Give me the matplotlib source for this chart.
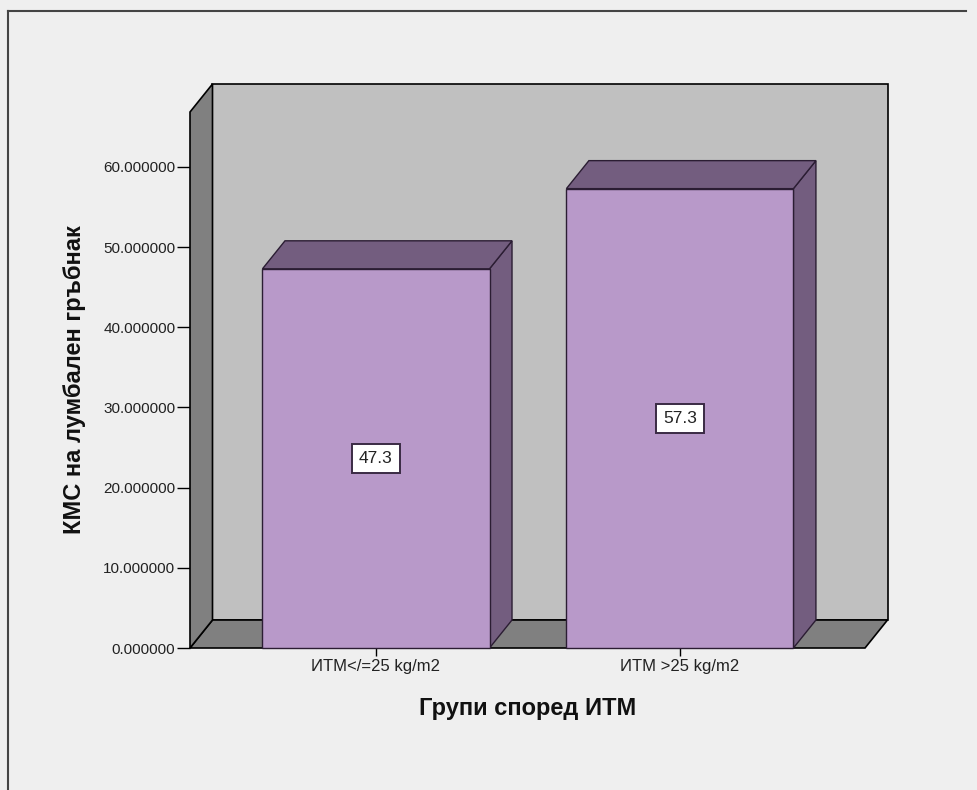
import numpy as np
import matplotlib
matplotlib.use("Agg")
import matplotlib.pyplot as plt
from matplotlib import font_manager as fm
from matplotlib.patches import Polygon
from matplotlib.lines import Line2D

# данни
groups = ["ИТМ</=25 kg/m2", "ИТМ >25 kg/m2"]
kms_mean = [47.3, 57.3]
value_labels = ["47.3", "57.3"]
y_ticks = [0, 10, 20, 30, 40, 50, 60]

# цветове
bg_col = "#efefef"
wall_col = "#c0c0c0"
floor_col = "#808080"
bar_front = "#b899c9"
bar_dark = "#735d7f"
edge_dark = "#2b1d33"

plt.rcParams["font.family"] = ["Liberation Sans", "DejaVu Sans"]

# удебелен шрифт с нормална ширина (не Narrow)
bold_file = None
for f in fm.fontManager.ttflist:
    if f.name == "Liberation Sans" and f.weight in (700, "bold") and f.style == "normal" \
            and "narrow" not in f.fname.lower():
        bold_file = f.fname
        break
if bold_file:
    bold_fp = fm.FontProperties(fname=bold_file, size=17)
else:
    bold_fp = fm.FontProperties(family="DejaVu Sans", weight="bold", size=15.5)

W, H = 977, 790
fig = plt.figure(figsize=(W / 100, H / 100), dpi=100, facecolor=bg_col)
ax = fig.add_axes([190 / W, 1 - 648 / H, (865 - 190) / W, (648 - 112) / H])
ax.set_facecolor("none")
ax.set_xlim(-0.612, 1.609)
ax.set_ylim(0, 66.86)
for s in ax.spines.values():
    s.set_visible(False)

# дълбочина на 3D ефекта (пиксели -> единици на данните)
inv = ax.transData.inverted()
p0 = ax.transData.transform((0, 0))
dx, dy = inv.transform(p0 + np.array([22.5, 28.0])) - inv.transform(p0)

x0, x1 = ax.get_xlim()
top = ax.get_ylim()[1]

def poly(pts, fc, z, ec="black", lw=1.0):
    p = Polygon(pts, closed=True, facecolor=fc, edgecolor=ec, linewidth=lw,
                zorder=z, clip_on=False, joinstyle="miter")
    ax.add_patch(p)

# задна стена, под и лява стена
poly([(x0 + dx, dy), (x1 + dx, dy), (x1 + dx, top + dy), (x0 + dx, top + dy)], wall_col, 1, lw=1.2)
poly([(x0, 0), (x1, 0), (x1 + dx, dy), (x0 + dx, dy)], floor_col, 2, lw=1.2)
poly([(x0, 0), (x0, top), (x0 + dx, top + dy), (x0 + dx, dy)], floor_col, 2, lw=1.2)

# стълбове
xpos = np.arange(len(groups))
bw = 0.747
for x, v, lab in zip(xpos, kms_mean, value_labels):
    l, r = x - bw / 2, x + bw / 2
    poly([(r, 0), (r + dx, dy), (r + dx, v + dy), (r, v)], bar_dark, 3, ec=edge_dark)
    poly([(l, v), (r, v), (r + dx, v + dy), (l + dx, v + dy)], bar_dark, 3, ec=edge_dark)
    poly([(l, 0), (r, 0), (r, v), (l, v)], bar_front, 4, ec=edge_dark)
    ax.text(x, v / 2, lab, ha="center", va="center", fontsize=12.5, color="#222222", zorder=6,
            bbox=dict(boxstyle="square,pad=0.4", facecolor="white", edgecolor="#3a2a44", linewidth=1.4))

ax.set_xticks(xpos)
ax.set_xticklabels(groups, fontsize=12)
ax.set_yticks(y_ticks)
ax.set_yticklabels([f"{t:.6f}" for t in y_ticks], fontsize=11)
ax.tick_params(axis="y", length=9.5, width=1.0, pad=1, colors="black", labelcolor="#222222")
ax.tick_params(axis="x", length=6, width=1.0, pad=2, colors="black", labelcolor="#222222")

ax.set_xlabel("Групи според ИТМ", fontproperties=bold_fp, labelpad=16.5, color="#111111")
ax.set_ylabel("КМС на лумбален гръбнак", fontproperties=bold_fp, labelpad=12.5, color="#111111")

# рамка
fig.add_artist(Line2D([8 / W, 8 / W], [0, 1 - 11 / H], transform=fig.transFigure, color="#444444", lw=1.5))
fig.add_artist(Line2D([8 / W, 966 / W], [1 - 11 / H, 1 - 11 / H], transform=fig.transFigure, color="#444444", lw=1.5))

fig.savefig("out.png", dpi=100, facecolor=bg_col)
